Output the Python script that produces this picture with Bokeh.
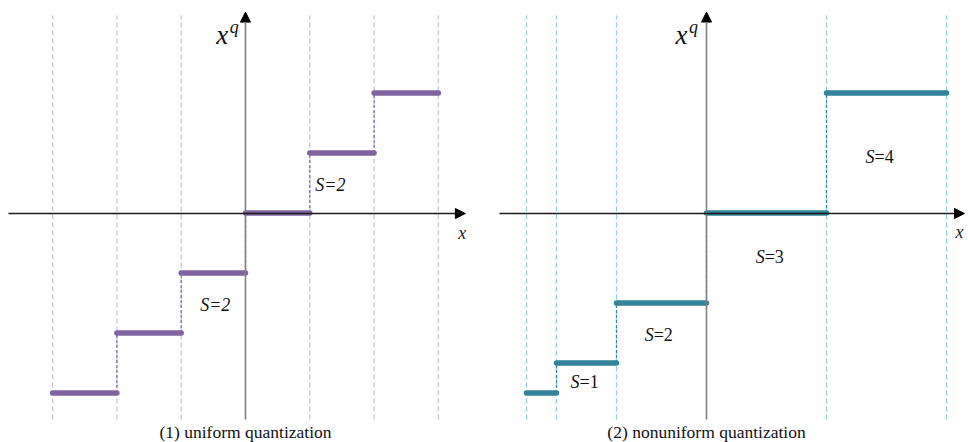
from bokeh.plotting import figure
from bokeh.layouts import row
from bokeh.models import Range1d, Arrow, NormalHead
from bokeh.embed import file_html
from bokeh.resources import INLINE
from bokeh.core.properties import value

# ---- data ----
# uniform quantization: interval edges and quantized levels
u_edges = [-3, -2, -1, 0, 1, 2, 3]
u_levels = [-3, -2, -1, 0, 1, 2]
u_labels = ["S=2", "S=2"]
u_label_x = [1.32, -0.47]
u_label_y = [0.46, -1.54]
u_caption = "(1) uniform quantization"

# nonuniform quantization
n_edges = [-6, -5, -3, 0, 4, 8]
n_levels = [-6, -5, -3, 0, 4]
n_labels = ["=1", "=2", "=3", "=4"]
n_label_x = [-4.1, -1.63, 2.07, 5.73]
n_label_y = [-5.65, -4.08, -1.48, 1.88]
n_caption = "(2) nonuniform quantization"

SERIF = value("Times New Roman")
PURPLE = "#8064A2"
PURPLE_L = "#CBC3DE"
TEAL = "#31849B"
TEAL_L = "#8FD0E2"


def base(width, xr, yr):
    p = figure(width=width, height=442, x_range=Range1d(*xr), y_range=Range1d(*yr),
               output_backend="svg", toolbar_location=None, min_border=0)
    p.axis.visible = False
    p.grid.visible = False
    p.outline_line_color = None
    p.background_fill_color = "white"
    p.border_fill_color = "white"
    return p


def panel(p, edges, levels, color, light, xpx, ypx, xax, ytop, ybot, xlab_x, sup_x):
    # dashed vertical guide lines
    ge = [e for e in edges if e != 0]
    p.segment(x0=ge, y0=[ybot] * len(ge), x1=ge, y1=[ytop] * len(ge),
              line_color=light, line_width=1.3, line_dash="5 3")
    # y axis
    p.add_layout(Arrow(end=NormalHead(size=10, fill_color="black", line_color="black"),
                       x_start=0, y_start=ybot, x_end=0, y_end=ytop + 3.5 / ypx,
                       line_color="#808080", line_width=1.6))
    # x axis
    p.add_layout(Arrow(end=NormalHead(size=10, fill_color="black", line_color="black"),
                       x_start=xax[0], y_start=-0.5 / ypx, x_end=xax[1], y_end=-0.5 / ypx,
                       line_color="#1a1a1a", line_width=1.3))
    # vertical dashed connectors between levels
    cx = edges[1:len(levels)]
    p.segment(x0=cx, y0=levels[:-1], x1=cx, y1=levels[1:],
              line_color=color, line_width=1.2, line_dash="3 2")
    # quantization steps
    p.segment(x0=edges[:-1], y0=levels, x1=edges[1:], y1=levels,
              line_color=color, line_width=5.5, line_cap="round")
    # axis labels
    p.text(x=[xlab_x], y=[-19.5 / ypx], text=["x"], text_font=SERIF,
           text_font_style="italic", text_font_size="18px",
           text_align="center", text_baseline="middle", text_color="#222222")
    p.text(x=[sup_x], y=[178 / ypx], text=["x"], text_font=SERIF,
           text_font_style="italic", text_font_size="27px",
           text_align="center", text_baseline="middle", text_color="#111111")
    p.text(x=[sup_x + 12 / xpx], y=[186 / ypx], text=["q"], text_font=SERIF,
           text_font_style="italic", text_font_size="18px",
           text_align="center", text_baseline="middle", text_color="#111111")


# left panel: 64.3 px per x unit, 60 px per y unit (origin at px 245, 212.5)
pl = base(484, (-3.810, 3.717), (-3.825, 3.542))
panel(pl, u_edges, u_levels, PURPLE, PURPLE_L, 64.3, 60, (-3.686, 3.42), 3.29, -3.44, 3.37, -0.36)
pl.text(x=u_label_x, y=u_label_y, text=u_labels, text_font=SERIF, text_font_style="italic",
        text_font_size="18px", text_align="center", text_baseline="middle", text_color="#111111")
pl.text(x=[0], y=[-3.816], text=[u_caption], text_font=SERIF, text_font_size="17.5px",
        text_align="center", text_baseline="bottom", text_color="#111111")

# right panel: 30 px per unit in both directions (origin at px 706, 212.5)
pr = base(484, (-7.4, 8.733), (-7.65, 7.083))
panel(pr, n_edges, n_levels, TEAL, TEAL_L, 30, 30, (-6.9, 8.6), 6.58, -6.88, 8.43, -0.83)
s_x = [v - 0.13 for v in n_label_x]
pr.text(x=s_x, y=n_label_y, text=["S"] * len(n_labels), text_font=SERIF, text_font_style="italic",
        text_font_size="18px", text_align="right", text_baseline="middle", text_color="#111111")
pr.text(x=s_x, y=n_label_y, text=n_labels, text_font=SERIF,
        text_font_size="18px", text_align="left", text_baseline="middle", text_color="#111111")
pr.text(x=[0], y=[-7.633], text=[n_caption], text_font=SERIF, text_font_size="17.5px",
        text_align="center", text_baseline="bottom", text_color="#111111")

layout = row(pl, pr)
open("out.html", "w").write(file_html(layout, INLINE))
